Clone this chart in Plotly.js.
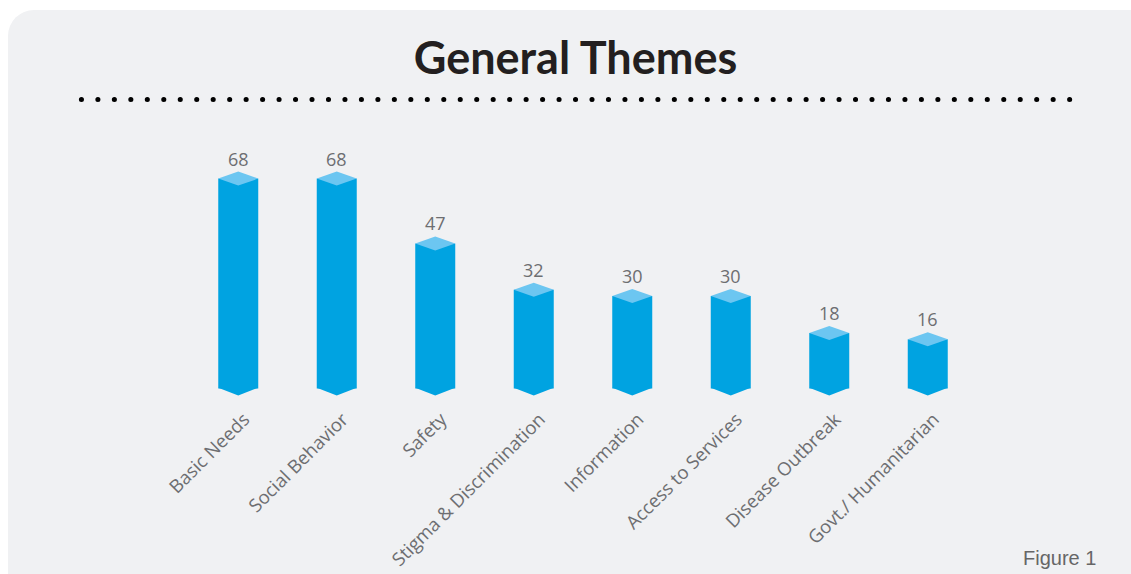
<!DOCTYPE html>
<html>
<head>
<meta charset="utf-8">
<script src="https://cdn.plot.ly/plotly-3.0.1.min.js"></script>
<style>
  html, body { margin: 0; padding: 0; background: #ffffff; }
  #panel { position: absolute; left: 8px; top: 10px; width: 1150px; height: 590px;
           border-radius: 26px; background: #f0f1f3; }
  #chart { position: absolute; left: 0; top: 0; width: 1131px; height: 574px; }
  .shapelayer path { stroke-linecap: round !important; }
</style>
</head>
<body>
<div id="panel"></div>
<div id="chart"></div>
<script>
// ---- data ----
const categories = ["Basic Needs", "Social Behavior", "Safety", "Stigma & Discrimination",
                    "Information", "Access to Services", "Disease Outbreak", "Govt./ Humanitarian"];
const counts = [68, 68, 47, 32, 30, 30, 18, 16];
const chartTitle = "General Themes";
const figureLabel = "Figure 1";

// ---- style ----
const faceColor = "#00a3e1";
const topColor = "#6cc6f1";
const textGray = "#6d6e71";
const halfW = 0.203;   // half bar width (category units)
const depth = 2.27;    // 3D cap depth (value units)

const positions = categories.map((_, i) => i);

const traces = [];
traces.push({
  type: "bar", x: positions, y: counts, width: halfW * 2,
  marker: { color: faceColor, line: { width: 0 } },
  hoverinfo: "skip", showlegend: false
});
positions.forEach((p, i) => {
  const v = counts[i];
  // top diamond
  traces.push({
    type: "scatter", mode: "lines", fill: "toself", fillcolor: topColor,
    x: [p - halfW, p, p + halfW, p, p - halfW],
    y: [v, v + depth, v, v - depth, v],
    line: { width: 0, color: topColor }, hoverinfo: "skip", showlegend: false
  });
  // bottom chevron
  traces.push({
    type: "scatter", mode: "lines", fill: "toself", fillcolor: faceColor,
    x: [p - halfW, p, p + halfW, p - halfW],
    y: [0.3, -depth, 0.3, 0.3],
    line: { width: 0, color: faceColor }, hoverinfo: "skip", showlegend: false
  });
});

const L = 188.7, R = 1131 - 977.3, T = 157.4, B = 574 - 404;
const plotW = 1131 - L - R, plotH = 574 - T - B;

const annotations = positions.map((p, i) => ({
  x: p, y: counts[i] + depth, xref: "x", yref: "y",
  text: String(counts[i]), showarrow: false, yanchor: "bottom", yshift: -1,
  font: { family: "Open Sans", size: 18, color: textGray }
}));
annotations.push({
  x: (1059.5 - L) / plotW, y: (574 - B - 558) / plotH, xref: "paper", yref: "paper",
  text: figureLabel, showarrow: false, xanchor: "center", yanchor: "middle",
  font: { family: "Liberation Sans, Arial", size: 20, color: "#666666" }
});

const layout = {
  width: 1131, height: 574,
  margin: { l: L, r: R, t: T, b: B, pad: 0 },
  paper_bgcolor: "rgba(0,0,0,0)", plot_bgcolor: "rgba(0,0,0,0)",
  title: {
    text: "<b>" + chartTitle + "</b>", xref: "container", yref: "container",
    x: 575.5 / 1131, y: 1 - 58 / 574, xanchor: "center", yanchor: "middle",
    font: { family: "Lato", size: 45, color: "#231f20" }
  },
  xaxis: {
    range: [-0.5, 7.5], tickmode: "array", tickvals: positions, ticktext: categories,
    tickangle: -45, showgrid: false, zeroline: false, showline: false, ticks: "",
    ticklabelshift: 6,
    tickfont: { family: "Open Sans", size: 18.5, color: textGray }, fixedrange: true
  },
  yaxis: { range: [-5, 75], visible: false, fixedrange: true },
  shapes: [{
    type: "line", xref: "paper", yref: "paper",
    x0: (81 - L) / plotW, x1: (1073 - L) / plotW,
    y0: (574 - B - 100) / plotH, y1: (574 - B - 100) / plotH,
    line: { color: "#000000", width: 5, dash: "0.1px,16.37px" }
  }],
  annotations: annotations,
  showlegend: false
};

Plotly.newPlot("chart", traces, layout, { displayModeBar: false, staticPlot: true });
</script>
</body>
</html>
